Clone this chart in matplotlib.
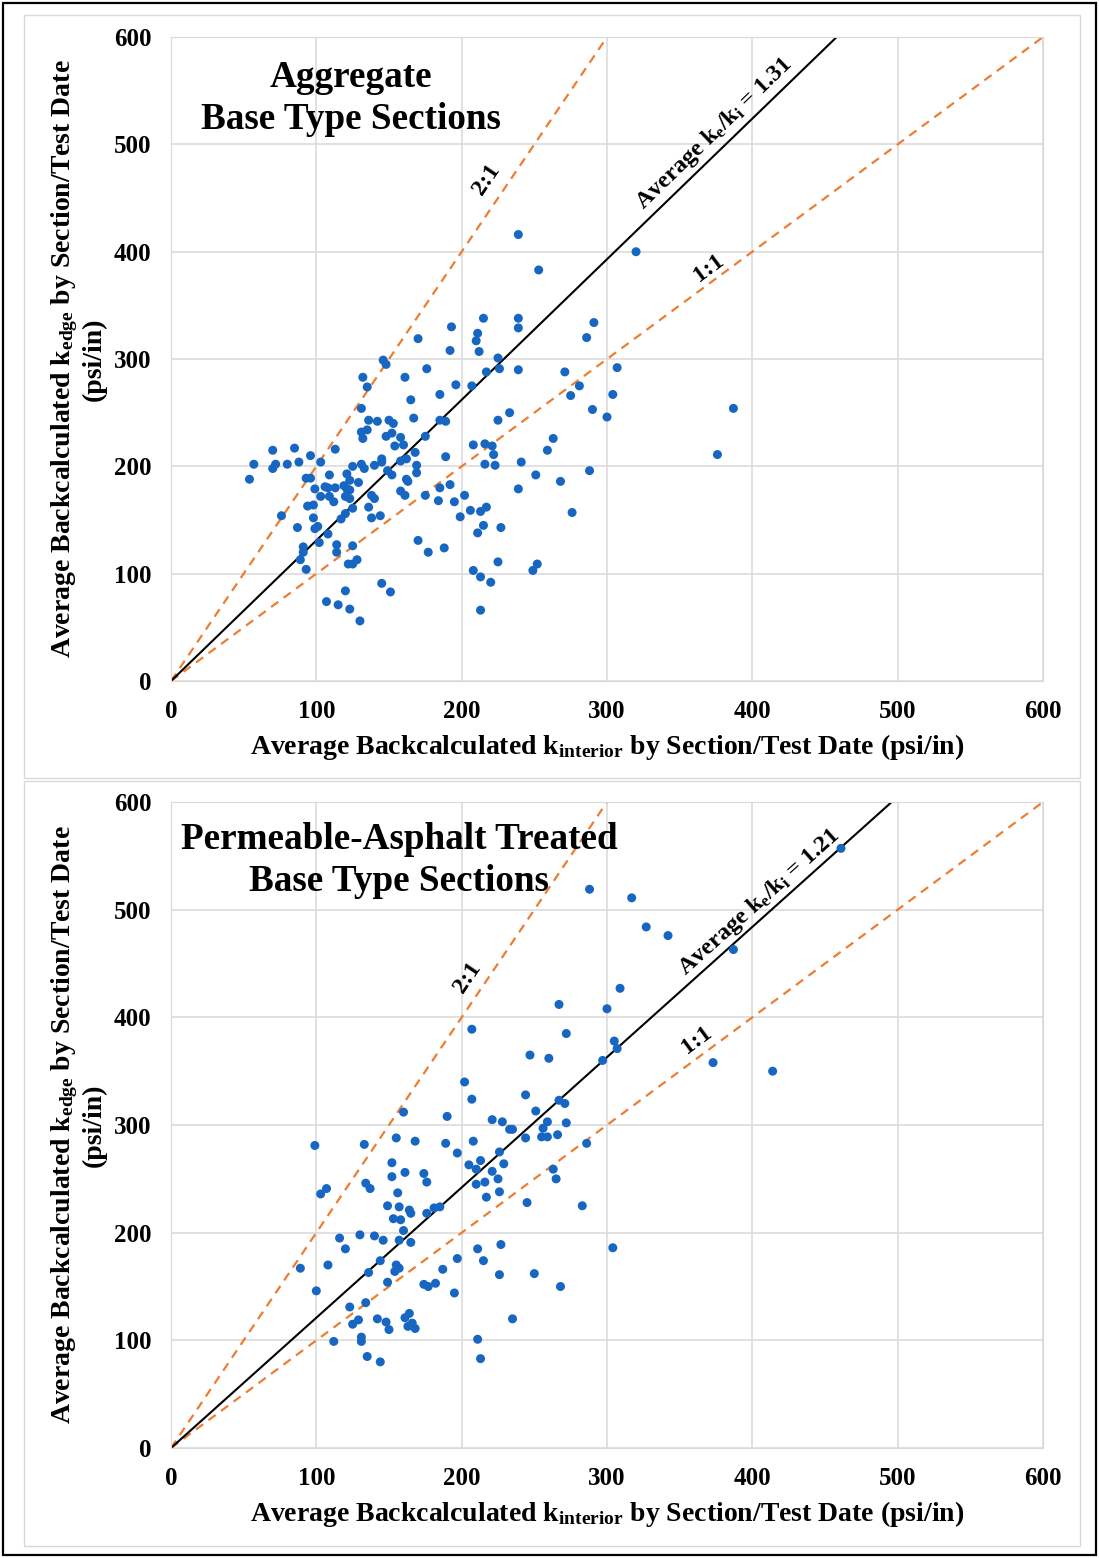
import matplotlib
matplotlib.use("Agg")
import matplotlib.pyplot as plt
import numpy as np
from matplotlib.patches import Rectangle


# aggregate base sections: (k_interior, k_edge) per section/test date, psi/in
agg_interior = [
    54, 57, 70, 70, 72, 80, 85, 88, 96, 103, 113, 76, 87, 93, 96, 99, 103, 94, 98, 98,
    99, 101, 91, 91, 89, 93, 102, 108, 109, 106, 108, 113, 109, 112, 117, 120, 125, 114, 114, 125,
    122, 125, 128, 121, 119, 121, 123, 120, 123, 123, 125, 129, 131, 133, 132, 131, 135, 138, 140, 136,
    138, 144, 140, 145, 145, 149, 152, 148, 152, 154, 158, 160, 175, 168, 158, 162, 169, 169, 162, 163,
    158, 161, 175, 184, 185, 170, 177, 145, 151, 120, 107, 115, 123, 130, 189, 208, 216, 221, 222, 216,
    223, 263, 259, 241, 251, 288, 268, 239, 192, 195, 202, 206, 213, 217, 199, 215, 211, 227, 276, 188,
    225, 208, 213, 220, 252, 249, 213, 170, 146, 148, 176, 132, 135, 161, 165, 131, 136, 142, 150, 153,
    167, 185, 185, 239, 320, 253, 193, 215, 239, 239, 211, 210, 192, 212, 291, 286, 225, 226, 217, 239,
    271, 307, 196, 207, 281, 275, 304, 290, 300, 233, 225, 189, 376, 387]
agg_edge = [
    188, 202, 215, 198, 202, 202, 217, 204, 210, 204, 216, 154, 143, 189, 189, 179, 172, 163, 164, 152,
    142, 144, 125, 120, 113, 104, 129, 137, 192, 181, 180, 180, 172, 167, 151, 156, 161, 127, 120, 126,
    109, 109, 113, 193, 182, 179, 178, 172, 170, 187, 200, 185, 202, 198, 226, 232, 234, 173, 170, 162,
    152, 154, 201, 207, 204, 196, 192, 228, 231, 219, 227, 220, 228, 213, 205, 207, 201, 194, 188, 186,
    177, 173, 173, 168, 180, 131, 120, 91, 83, 84, 74, 71, 67, 56, 209, 220, 221, 219, 211, 202,
    201, 226, 215, 204, 192, 196, 186, 179, 183, 167, 173, 159, 158, 162, 153, 145, 138, 143, 157, 124,
    111, 103, 97, 92, 109, 103, 66, 319, 299, 295, 291, 283, 274, 283, 262, 254, 243, 242, 243, 240,
    245, 243, 267, 416, 400, 383, 330, 338, 338, 329, 324, 317, 308, 307, 334, 320, 301, 291, 288, 290,
    288, 292, 276, 275, 275, 266, 267, 253, 246, 250, 243, 242, 211, 254]

# permeable-asphalt treated base sections
pat_interior = [
    160, 190, 99, 133, 155, 168, 189, 197, 152, 152, 161, 174, 176, 107, 103, 134, 137, 156, 149, 157,
    164, 165, 176, 181, 185, 153, 158, 160, 116, 130, 140, 146, 157, 165, 120, 89, 108, 144, 155, 157,
    154, 136, 149, 187, 197, 174, 177, 182, 195, 100, 123, 134, 125, 129, 142, 148, 150, 161, 164, 166,
    163, 168, 112, 131, 131, 135, 144, 247, 260, 297, 202, 207, 244, 267, 271, 251, 221, 228, 233, 235,
    259, 272, 256, 244, 255, 259, 266, 208, 286, 213, 226, 205, 210, 229, 221, 225, 216, 210, 226, 217,
    263, 265, 245, 283, 227, 211, 304, 215, 226, 250, 268, 235, 211, 213, 461, 288, 317, 327, 342, 387,
    309, 300, 305, 307, 373, 414, 272, 207, 267]
pat_edge = [
    312, 308, 281, 282, 288, 285, 283, 274, 265, 252, 256, 255, 247, 241, 236, 246, 241, 237, 225, 224,
    221, 218, 218, 223, 224, 213, 212, 202, 195, 198, 197, 193, 193, 191, 185, 167, 170, 174, 170, 167,
    164, 163, 154, 166, 176, 152, 150, 153, 144, 146, 131, 135, 115, 119, 120, 117, 110, 121, 125, 116,
    113, 111, 99, 103, 99, 85, 80, 365, 362, 360, 340, 324, 328, 323, 320, 313, 305, 303, 296, 296,
    303, 302, 297, 288, 289, 289, 291, 285, 283, 267, 275, 263, 259, 264, 257, 250, 247, 245, 238, 233,
    259, 250, 228, 225, 189, 185, 186, 174, 161, 162, 150, 120, 101, 83, 557, 519, 511, 484, 476, 463,
    427, 408, 378, 371, 358, 350, 385, 389, 412]

agg_ratio = 1.31
pat_ratio = 1.21
ticks = [0, 100, 200, 300, 400, 500, 600]

BLUE = '#1767C2'
ORANGE = '#ED7D31'
GRID = '#D9D9D9'

plt.rcParams['font.family'] = ['Liberation Serif', 'DejaVu Serif']
plt.rcParams['font.weight'] = 'bold'
plt.rcParams['mathtext.fontset'] = 'custom'
plt.rcParams['mathtext.rm'] = 'Liberation Serif:bold'
plt.rcParams['mathtext.it'] = 'Liberation Serif:bold'
plt.rcParams['mathtext.bf'] = 'Liberation Serif:bold'


def draw_panel(ax, kx, ky, ratio, title, title_xy, lbl_21, lbl_11, lbl_avg):

    ax.set_xlim(0, 600)
    ax.set_ylim(0, 600)
    ax.set_xticks(ticks)
    ax.set_yticks(ticks)
    ax.grid(True, color=GRID, lw=1.1, zorder=0)
    ax.set_axisbelow(True)
    for sp in ax.spines.values():
        sp.set_color(GRID)
    ax.tick_params(length=0, labelsize=18)
    ax.tick_params(axis='x', pad=14)
    ax.tick_params(axis='y', pad=14)

    xs = np.array([0, 600])
    ax.plot(xs, 2 * xs, ls=(0, (4, 3)), color=ORANGE, lw=1.6, zorder=2)
    ax.plot(xs, xs, ls=(0, (4, 3)), color=ORANGE, lw=1.6, zorder=2)
    ax.plot(xs, ratio * xs, color='black', lw=1.5, zorder=2)

    ax.scatter(kx, ky, s=42, color=BLUE, edgecolors='none', zorder=3)

    ax.text(title_xy[0], title_xy[1], title, ha='center', va='center',
            fontsize=26.7, linespacing=1.26)

    ang = dict(transform_rotates_text=True, rotation_mode='anchor',
               ha='center', va='center', fontsize=17.5)
    ax.text(lbl_21[0], lbl_21[1], '2:1', rotation=np.degrees(np.arctan(2)), **ang)
    ax.text(lbl_11[0], lbl_11[1], '1:1', rotation=45, **ang)
    ax.text(lbl_avg[0], lbl_avg[1],
            'Average k$_e$/k$_i$ = {:.2f}'.format(ratio),
            rotation=np.degrees(np.arctan(ratio)), **ang)

    ax.text(0.5, -0.102,
            'Average Backcalculated k$_{\\rm interior}$ by Section/Test Date (psi/in)',
            transform=ax.transAxes, ha='center', va='center', fontsize=20)
    ax.text(-0.107, 0.5,
            'Average Backcalculated k$_{\\rm edge}$ by Section/Test Date\n(psi/in)',
            transform=ax.transAxes, ha='center', va='center', rotation=90,
            fontsize=20, linespacing=1.1, multialignment='center')


def main():

    fig = plt.figure(figsize=(10.99, 15.58), dpi=100)

    # outer frame and the two chart areas
    fig.patches.append(Rectangle((0.003, 0.002), 0.994, 0.996, transform=fig.transFigure,
                                 fill=False, ec='black', lw=1.6))
    fig.patches.append(Rectangle((24 / 1099, 1 - 778 / 1558), 1056 / 1099, 763 / 1558,
                                 transform=fig.transFigure, fill=False, ec=GRID, lw=1))
    fig.patches.append(Rectangle((24 / 1099, 1 - 1546 / 1558), 1056 / 1099, 765 / 1558,
                                 transform=fig.transFigure, fill=False, ec=GRID, lw=1))

    ax1 = fig.add_axes([0.1556, 0.5629, 0.7934, 0.4133])
    ax2 = fig.add_axes([0.1556, 0.0706, 0.7934, 0.4146])

    draw_panel(ax1, agg_interior, agg_edge, agg_ratio,
               'Aggregate\nBase Type Sections', (124, 543),
               (217, 467), (370, 385), (374, 510))
    draw_panel(ax2, pat_interior, pat_edge, pat_ratio,
               'Permeable-Asphalt Treated\nBase Type Sections', (157, 546),
               (204, 437), (362, 379), (405, 507))

    fig.savefig('out.png', dpi=100)


if __name__ == "__main__":
    main()
